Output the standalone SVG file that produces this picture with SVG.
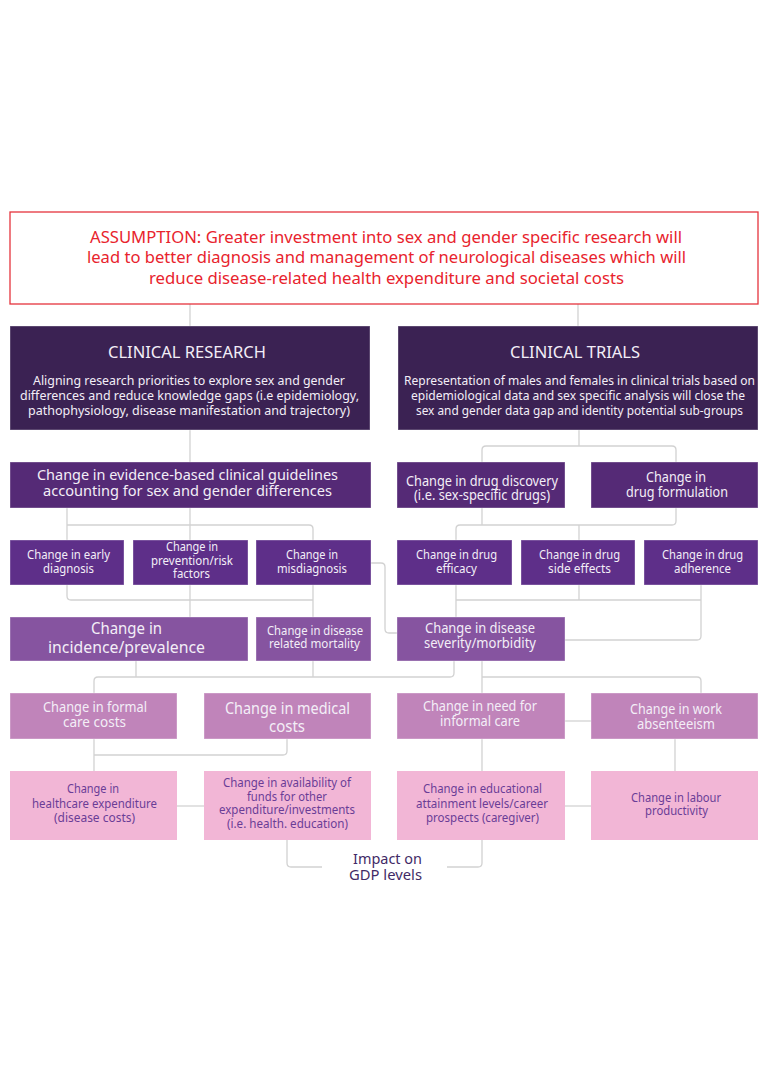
<svg xmlns="http://www.w3.org/2000/svg" width="768" height="1086" viewBox="0 0 768 1086">
<style>
text{font-family:"Noto Sans","Open Sans","Liberation Sans",sans-serif;text-anchor:middle}
.w{fill:#f3eef7}
.pk{fill:#6a3d96}
.dark{fill:#3b2253}
.g{fill:#552a76}
.s{fill:#5e2f89}
.m{fill:#8654a0}
.r6{fill:#c084ba}
.r7{fill:#f2b6d6}
.b{stroke:#ffffff;stroke-opacity:0.35;stroke-width:1}
.conn path{fill:none;stroke:#d2d2d2;stroke-width:1.3}
</style>
<rect width="768" height="1086" fill="#ffffff"/>
<g class="conn" id="connectors">
<path d="M190,304 V326"/>
<path d="M578,304 V326"/>
<path d="M190,430 V462"/>
<path d="M579,430 V446"/>
<path d="M482,462 V450 Q482,446 486,446 H672 Q676,446 676,450 V462"/>
<path d="M190,508 V540"/>
<path d="M67,508 V540"/>
<path d="M67,525 H309 Q313,525 313,529 V540"/>
<path d="M67,585 V596 Q67,600 71,600 H313"/>
<path d="M313,585 V617"/>
<path d="M190,585 V617"/>
<path d="M371,563 H381 Q385,563 385,567 V629 Q385,633 389,633 H397"/>
<path d="M482,508 V525"/>
<path d="M456,540 V529 Q456,525 460,525 H672 Q676,525 676,521 V508"/>
<path d="M579,525 V540"/>
<path d="M456,585 V617"/>
<path d="M456,600 H701"/>
<path d="M579,585 V600"/>
<path d="M701,585 V636 Q701,640 697,640 H565"/>
<path d="M136,661 V677"/>
<path d="M313,661 V677"/>
<path d="M454,661 V673 Q454,677 450,677 H98 Q94,677 94,681 V693"/>
<path d="M482,661 V693"/>
<path d="M482,677 H697 Q701,677 701,681 V693"/>
<path d="M94,739 V771"/>
<path d="M94,755 H283 Q287,755 287,751 V739"/>
<path d="M482,739 V771"/>
<path d="M675,739 V771"/>
<path d="M565,721 H591"/>
<path d="M177,806 H204"/>
<path d="M565,806 H591"/>
<path d="M287,840 V863 Q287,867 291,867 H322"/>
<path d="M482,840 V863 Q482,867 478,867 H447"/>
</g>

<g id="assumption">
<rect x="10" y="212" width="748" height="92" fill="#ffffff" stroke="#e5343d" stroke-width="1.3"/>
<text x="386" y="243" font-size="16.5" fill="#e8232d" textLength="592" lengthAdjust="spacingAndGlyphs">ASSUMPTION: Greater investment into sex and gender specific research will</text>
<text x="386.5" y="263" font-size="16.5" fill="#e8232d" textLength="599" lengthAdjust="spacingAndGlyphs">lead to better diagnosis and management of neurological diseases which will</text>
<text x="386.5" y="284" font-size="16.5" fill="#e8232d" textLength="475" lengthAdjust="spacingAndGlyphs">reduce disease-related health expenditure and societal costs</text>
</g>

<g id="clinical-research">
<rect x="10" y="326" width="360" height="104" class="dark b"/>
<text x="187" y="358" font-size="16" class="w" textLength="158" lengthAdjust="spacingAndGlyphs">CLINICAL RESEARCH</text>
<text x="189" y="385" font-size="12.5" class="w" textLength="312" lengthAdjust="spacingAndGlyphs">Aligning research priorities to explore sex and gender</text>
<text x="189.5" y="400" font-size="12.5" class="w" textLength="339" lengthAdjust="spacingAndGlyphs">differences and reduce knowledge gaps (i.e epidemiology,</text>
<text x="189" y="415" font-size="12.5" class="w" textLength="322" lengthAdjust="spacingAndGlyphs">pathophysiology, disease manifestation and trajectory)</text>
</g>

<g id="clinical-trials">
<rect x="398" y="326" width="360" height="104" class="dark b"/>
<text x="575" y="358" font-size="16" class="w" textLength="130" lengthAdjust="spacingAndGlyphs">CLINICAL TRIALS</text>
<text x="579.5" y="385" font-size="12" class="w" textLength="351" lengthAdjust="spacingAndGlyphs">Representation of males and females in clinical trials based on</text>
<text x="578" y="400" font-size="12" class="w" textLength="334" lengthAdjust="spacingAndGlyphs">epidemiological data and sex specific analysis will close the</text>
<text x="579.5" y="415" font-size="12" class="w" textLength="327" lengthAdjust="spacingAndGlyphs">sex and gender data gap and identity potential sub-groups</text>
</g>

<g id="guidelines">
<rect x="10" y="462" width="361" height="46" class="g b"/>
<text x="187.5" y="480" font-size="15" class="w" textLength="301" lengthAdjust="spacingAndGlyphs">Change in evidence-based clinical guidelines</text>
<text x="187.5" y="496" font-size="15" class="w" textLength="289" lengthAdjust="spacingAndGlyphs">accounting for sex and gender differences</text>
</g>

<g id="drug-discovery">
<rect x="397" y="462" width="168" height="46" class="g b"/>
<text x="482" y="485.5" font-size="13.5" class="w" textLength="152" lengthAdjust="spacingAndGlyphs">Change in drug discovery</text>
<text x="482" y="499.5" font-size="13.5" class="w" textLength="136" lengthAdjust="spacingAndGlyphs">(i.e. sex-specific drugs)</text>
</g>

<g id="drug-formulation">
<rect x="591" y="462" width="167" height="46" class="g b"/>
<text x="676" y="482" font-size="15" class="w" textLength="60" lengthAdjust="spacingAndGlyphs">Change in</text>
<text x="677" y="497" font-size="15" class="w" textLength="102" lengthAdjust="spacingAndGlyphs">drug formulation</text>
</g>

<g id="early-diagnosis">
<rect x="10" y="540" width="114" height="45" class="s b"/>
<text x="68.5" y="559" font-size="12.5" class="w" textLength="83" lengthAdjust="spacingAndGlyphs">Change in early</text>
<text x="68.5" y="573" font-size="12.5" class="w" textLength="51" lengthAdjust="spacingAndGlyphs">diagnosis</text>
</g>

<g id="prevention">
<rect x="133" y="540" width="115" height="45" class="s b"/>
<text x="192" y="551" font-size="12.5" class="w" textLength="52" lengthAdjust="spacingAndGlyphs">Change in</text>
<text x="192" y="565" font-size="12.5" class="w" textLength="82" lengthAdjust="spacingAndGlyphs">prevention/risk</text>
<text x="191.5" y="578" font-size="12.5" class="w" textLength="37" lengthAdjust="spacingAndGlyphs">factors</text>
</g>

<g id="misdiagnosis">
<rect x="256" y="540" width="115" height="45" class="s b"/>
<text x="312" y="559" font-size="12.5" class="w" textLength="52" lengthAdjust="spacingAndGlyphs">Change in</text>
<text x="312" y="573" font-size="12.5" class="w" textLength="70" lengthAdjust="spacingAndGlyphs">misdiagnosis</text>
</g>

<g id="drug-efficacy">
<rect x="397" y="540" width="115" height="45" class="s b"/>
<text x="456.5" y="559" font-size="12.5" class="w" textLength="81" lengthAdjust="spacingAndGlyphs">Change in drug</text>
<text x="456.5" y="573" font-size="12.5" class="w" textLength="41" lengthAdjust="spacingAndGlyphs">efficacy</text>
</g>

<g id="drug-side-effects">
<rect x="521" y="540" width="114" height="45" class="s b"/>
<text x="579.5" y="559" font-size="12.5" class="w" textLength="81" lengthAdjust="spacingAndGlyphs">Change in drug</text>
<text x="579.5" y="573" font-size="12.5" class="w" textLength="63" lengthAdjust="spacingAndGlyphs">side effects</text>
</g>

<g id="drug-adherence">
<rect x="644" y="540" width="114" height="45" class="s b"/>
<text x="702.5" y="559" font-size="12.5" class="w" textLength="81" lengthAdjust="spacingAndGlyphs">Change in drug</text>
<text x="702.5" y="573" font-size="12.5" class="w" textLength="57" lengthAdjust="spacingAndGlyphs">adherence</text>
</g>

<g id="incidence">
<rect x="10" y="617" width="238" height="44" class="m b"/>
<text x="126.5" y="634" font-size="17" class="w" textLength="71" lengthAdjust="spacingAndGlyphs">Change in</text>
<text x="126.5" y="653" font-size="17" class="w" textLength="157" lengthAdjust="spacingAndGlyphs">incidence/prevalence</text>
</g>

<g id="mortality">
<rect x="256" y="617" width="115" height="44" class="m b"/>
<text x="315" y="635" font-size="12.5" class="w" textLength="96" lengthAdjust="spacingAndGlyphs">Change in disease</text>
<text x="314.5" y="648" font-size="12.5" class="w" textLength="91" lengthAdjust="spacingAndGlyphs">related mortality</text>
</g>

<g id="severity">
<rect x="397" y="617" width="168" height="44" class="m b"/>
<text x="480" y="633" font-size="15" class="w" textLength="110" lengthAdjust="spacingAndGlyphs">Change in disease</text>
<text x="480" y="648" font-size="15" class="w" textLength="112" lengthAdjust="spacingAndGlyphs">severity/morbidity</text>
</g>

<g id="formal-care">
<rect x="10" y="693" width="167" height="46" class="r6 b"/>
<text x="95" y="712" font-size="14" class="w" textLength="104" lengthAdjust="spacingAndGlyphs">Change in formal</text>
<text x="94.5" y="727" font-size="14" class="w" textLength="63" lengthAdjust="spacingAndGlyphs">care costs</text>
</g>

<g id="medical-costs">
<rect x="204" y="693" width="167" height="46" class="r6 b"/>
<text x="287.5" y="714" font-size="16" class="w" textLength="125" lengthAdjust="spacingAndGlyphs">Change in medical</text>
<text x="287" y="732" font-size="16" class="w" textLength="36" lengthAdjust="spacingAndGlyphs">costs</text>
</g>

<g id="informal-care">
<rect x="397" y="693" width="168" height="46" class="r6 b"/>
<text x="480" y="711" font-size="14" class="w" textLength="114" lengthAdjust="spacingAndGlyphs">Change in need for</text>
<text x="480" y="726" font-size="14" class="w" textLength="80" lengthAdjust="spacingAndGlyphs">informal care</text>
</g>

<g id="absenteeism">
<rect x="591" y="693" width="167" height="46" class="r6 b"/>
<text x="676" y="714" font-size="14.5" class="w" textLength="92" lengthAdjust="spacingAndGlyphs">Change in work</text>
<text x="676" y="729" font-size="14.5" class="w" textLength="78" lengthAdjust="spacingAndGlyphs">absenteeism</text>
</g>

<g id="healthcare-expenditure">
<rect x="10" y="771" width="167" height="69" class="r7"/>
<text x="93" y="793" font-size="12.5" class="pk" textLength="52" lengthAdjust="spacingAndGlyphs">Change in</text>
<text x="94.5" y="808" font-size="12.5" class="pk" textLength="125" lengthAdjust="spacingAndGlyphs">healthcare expenditure</text>
<text x="94.5" y="822" font-size="12.5" class="pk" textLength="81" lengthAdjust="spacingAndGlyphs">(disease costs)</text>
</g>

<g id="funds-availability">
<rect x="204" y="771" width="167" height="69" class="r7"/>
<text x="287" y="787" font-size="12.5" class="pk" textLength="128" lengthAdjust="spacingAndGlyphs">Change in availability of</text>
<text x="287" y="801" font-size="12.5" class="pk" textLength="80" lengthAdjust="spacingAndGlyphs">funds for other</text>
<text x="287" y="814" font-size="12.5" class="pk" textLength="136" lengthAdjust="spacingAndGlyphs">expenditure/investments</text>
<text x="287.5" y="828" font-size="12.5" class="pk" textLength="121" lengthAdjust="spacingAndGlyphs">(i.e. health. education)</text>
</g>

<g id="educational-attainment">
<rect x="397" y="771" width="168" height="69" class="r7"/>
<text x="482.5" y="793" font-size="12.5" class="pk" textLength="119" lengthAdjust="spacingAndGlyphs">Change in educational</text>
<text x="482" y="808" font-size="12.5" class="pk" textLength="132" lengthAdjust="spacingAndGlyphs">attainment levels/career</text>
<text x="482.5" y="822" font-size="12.5" class="pk" textLength="113" lengthAdjust="spacingAndGlyphs">prospects (caregiver)</text>
</g>

<g id="labour-productivity">
<rect x="591" y="771" width="167" height="69" class="r7"/>
<text x="676" y="802" font-size="12.5" class="pk" textLength="90" lengthAdjust="spacingAndGlyphs">Change in labour</text>
<text x="676.5" y="815" font-size="12.5" class="pk" textLength="63" lengthAdjust="spacingAndGlyphs">productivity</text>
</g>

<g id="gdp-impact">
<text x="387.5" y="864" font-size="15" fill="#3f2a66" textLength="69" lengthAdjust="spacingAndGlyphs">Impact on</text>
<text x="385.5" y="880" font-size="15" fill="#3f2a66" textLength="73" lengthAdjust="spacingAndGlyphs">GDP levels</text>
</g>
</svg>
